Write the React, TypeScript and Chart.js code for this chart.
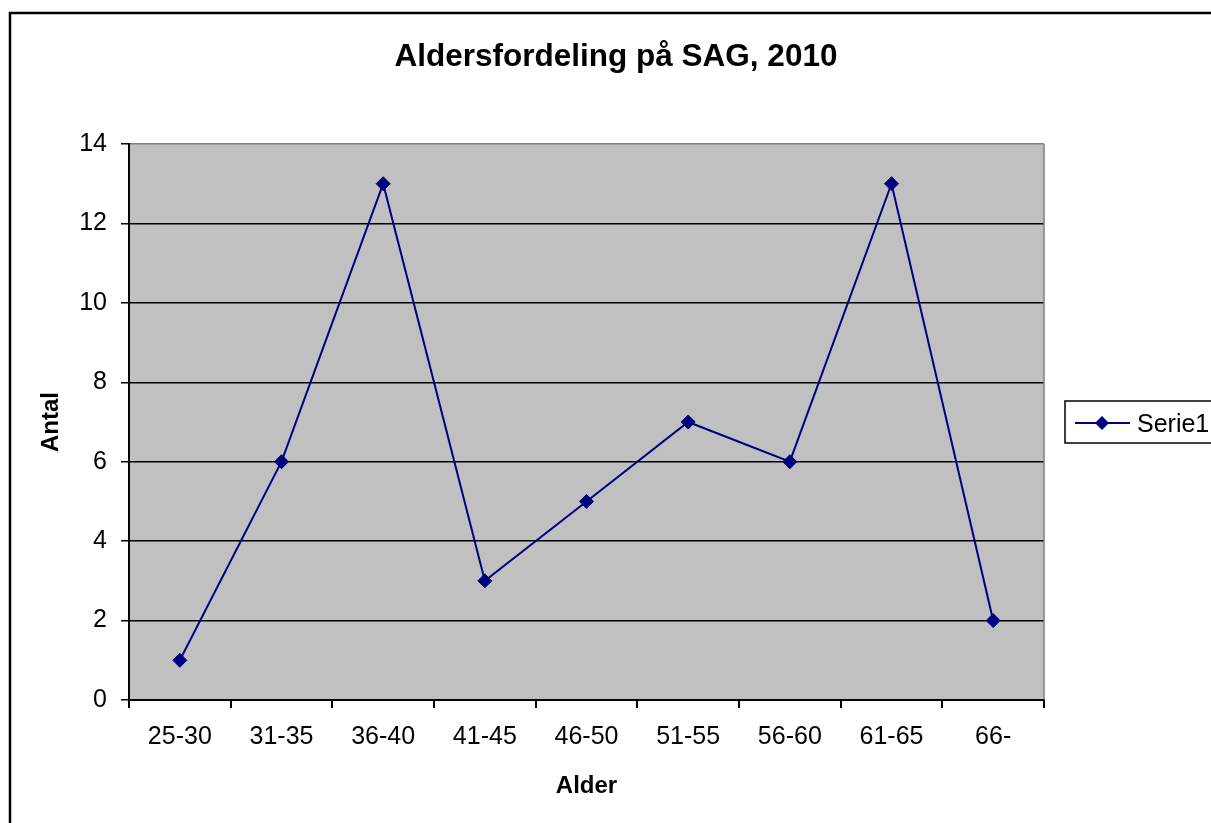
import React, { useEffect, useRef } from "react";
import { Chart, registerables } from "chart.js";

Chart.register(...registerables);

const categories: string[] = ["25-30", "31-35", "36-40", "41-45", "46-50", "51-55", "56-60", "61-65", "66-"];
const serie1: number[] = [1, 6, 13, 3, 5, 7, 6, 13, 2];
const seriesName = "Serie1";
const chartTitle = "Aldersfordeling på SAG, 2010";
const xTitle = "Alder";
const yTitle = "Antal";
const yMin = 0;
const yMax = 14;
const yStep = 2;

const FONT = '"Liberation Sans", Arial, sans-serif';
const NAVY = "#000080";

const decorPlugin = {
  id: "decor",
  beforeDraw(chart: any) {
    const { ctx, chartArea } = chart;
    ctx.save();
    ctx.fillStyle = "#ffffff";
    ctx.fillRect(0, 0, chart.width, chart.height);
    ctx.fillStyle = "#C0C0C0";
    ctx.fillRect(chartArea.left, chartArea.top, chartArea.right - chartArea.left, chartArea.bottom - chartArea.top);
    // outer chart border
    ctx.strokeStyle = "#000";
    ctx.lineWidth = 2.5;
    ctx.strokeRect(10, 13, chart.width + 20, chart.height + 20);
    ctx.restore();
  },
  beforeDatasetsDraw(chart: any) {
    const { ctx, chartArea } = chart;
    ctx.save();
    ctx.strokeStyle = "#808080";
    ctx.lineWidth = 1.5;
    ctx.beginPath();
    ctx.moveTo(chartArea.right, chartArea.top);
    ctx.lineTo(chartArea.right, chartArea.bottom);
    ctx.stroke();
    ctx.strokeStyle = "#000";
    ctx.lineWidth = 2;
    ctx.beginPath();
    ctx.moveTo(chartArea.left, chartArea.top);
    ctx.lineTo(chartArea.left, chartArea.bottom);
    ctx.lineTo(chartArea.right, chartArea.bottom);
    ctx.stroke();
    ctx.restore();
  },
  afterDraw(chart: any) {
    const { ctx } = chart;
    ctx.save();
    // title
    ctx.fillStyle = "#000";
    ctx.font = `bold 31.5px ${FONT}`;
    ctx.textAlign = "center";
    ctx.textBaseline = "alphabetic";
    ctx.fillText(chartTitle, 616, 66);
    // legend box
    ctx.strokeStyle = "#000";
    ctx.lineWidth = 1.5;
    ctx.fillStyle = "#fff";
    ctx.fillRect(1065, 401, 160, 42);
    ctx.strokeRect(1065, 401, 160, 42);
    ctx.strokeStyle = NAVY;
    ctx.lineWidth = 2;
    ctx.beginPath();
    ctx.moveTo(1075, 423);
    ctx.lineTo(1130, 423);
    ctx.stroke();
    ctx.fillStyle = NAVY;
    ctx.beginPath();
    ctx.moveTo(1102, 416);
    ctx.lineTo(1109, 423);
    ctx.lineTo(1102, 430);
    ctx.lineTo(1095, 423);
    ctx.closePath();
    ctx.fill();
    ctx.fillStyle = "#000";
    ctx.font = `25px ${FONT}`;
    ctx.textAlign = "left";
    ctx.fillText(seriesName, 1137, 432);
    ctx.restore();
  },
};

export default function App() {
  const canvasRef = useRef<HTMLCanvasElement | null>(null);

  useEffect(() => {
    if (!canvasRef.current) return;
    const chart = new Chart(canvasRef.current, {
      type: "line",
      data: {
        labels: categories,
        datasets: [
          {
            label: seriesName,
            data: serie1,
            borderColor: NAVY,
            backgroundColor: NAVY,
            borderWidth: 2,
            pointStyle: "rectRot",
            pointRadius: 7,
            pointBorderWidth: 1,
            pointBackgroundColor: NAVY,
            pointBorderColor: NAVY,
            tension: 0,
          },
        ],
      },
      options: {
        responsive: false,
        animation: false,
        layout: { padding: { left: 0, top: 144, right: 167, bottom: 0 } },
        plugins: {
          legend: { display: false },
          title: { display: false },
          tooltip: { enabled: false },
        },
        scales: {
          x: {
            type: "category",
            offset: true,
            grid: {
              offset: true,
              drawOnChartArea: false,
              drawTicks: true,
              tickLength: 8,
              color: "#000",
              tickColor: "#000",
              lineWidth: 2,
            },
            border: { display: true, color: "#000", width: 2 },
            ticks: {
              color: "#000",
              padding: 14,
              maxRotation: 0,
              autoSkip: false,
              font: { family: FONT, size: 25 },
            },
            title: {
              display: true,
              text: xTitle,
              color: "#000",
              font: { family: FONT, size: 24, weight: "bold" },
              padding: { top: 0, bottom: 22.6 },
            },
            afterFit(scale: any) {
              scale.height = 123;
            },
          },
          y: {
            min: yMin,
            max: yMax,
            grid: {
              drawTicks: true,
              tickLength: 8,
              color: (c: any) => (c.tick && c.tick.value === yMax ? "#808080" : "#000"),
              tickColor: "#000",
              lineWidth: 1.5,
            },
            border: { display: true, color: "#000", width: 2 },
            ticks: {
              stepSize: yStep,
              color: "#000",
              padding: 14,
              font: { family: FONT, size: 25 },
            },
            title: {
              display: true,
              text: yTitle,
              color: "#000",
              font: { family: FONT, size: 24, weight: "bold" },
              padding: { top: 36.6, bottom: 0 },
            },
            afterFit(scale: any) {
              scale.width = 129;
            },
          },
        },
      },
      plugins: [decorPlugin],
    } as any);
    return () => chart.destroy();
  }, []);

  return (
    <div style={{ position: "absolute", left: 0, top: 0, width: 1211, height: 823, overflow: "hidden" }}>
      <canvas ref={canvasRef} width={1211} height={823} style={{ display: "block" }} />
    </div>
  );
}
